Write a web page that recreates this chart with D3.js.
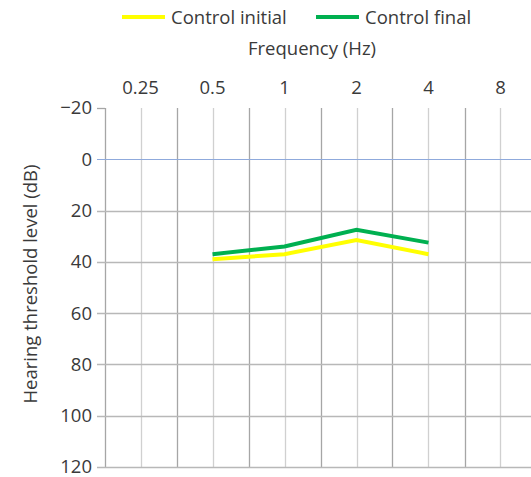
<!DOCTYPE html>
<html>
<head>
<meta charset="utf-8">
<script src="https://cdn.jsdelivr.net/npm/d3@7"></script>
<style>
  body { margin: 0; background: #fff; }
  text { font-family: "Open Sans", "Noto Sans", sans-serif; fill: #3a3a3a; }
</style>
</head>
<body>
<script>
// data
const freqs = [0.5, 1, 2, 4];
const controlInitial = [39, 37, 31.5, 37];
const controlFinal = [37, 34, 27.5, 32.5];
const freqTicks = [0.25, 0.5, 1, 2, 4, 8];
const dbTicks = [-20, 0, 20, 40, 60, 80, 100, 120];

const W = 531, H = 477;
const fs = "18.5px";
const svg = d3.select("body").append("svg")
  .attr("width", W).attr("height", H);

// x is log2, grid every half octave
const x = d3.scaleLog().base(2)
  .domain([Math.pow(2, -2.5), Math.pow(2, 3.5)])
  .range([104.5, 536.5]);
const y = d3.scaleLinear().domain([-20, 120]).range([108, 467]);

const gridX = d3.range(-2.5, 3.6, 0.5).map(e => Math.pow(2, e));

// vertical grid
svg.append("g").selectAll("line")
  .data(gridX)
  .join("line")
  .attr("x1", d => Math.round(x(d)) + 0.5).attr("x2", d => Math.round(x(d)) + 0.5)
  .attr("y1", y(-20)).attr("y2", y(120))
  .attr("stroke", (d, i) => i % 2 == 0 ? "#a6a6a6" : "#d0d0d0")
  .attr("stroke-width", 1.3);

// horizontal grid
svg.append("g").selectAll("line")
  .data(dbTicks.filter(d => d != -20))
  .join("line")
  .attr("x1", 97).attr("x2", W)
  .attr("y1", d => Math.round(y(d)) + 0.5).attr("y2", d => Math.round(y(d)) + 0.5)
  .attr("stroke", d => d == 0 ? "#8faadc" : "#b8b8b8")
  .attr("stroke-width", d => d == 0 ? 1 : 1.3);

// tick at -20
svg.append("line")
  .attr("x1", 97).attr("x2", 105)
  .attr("y1", Math.round(y(-20)) + 0.5).attr("y2", Math.round(y(-20)) + 0.5)
  .attr("stroke", "#a6a6a6").attr("stroke-width", 1.3);

// y labels
svg.append("g").selectAll("text")
  .data(dbTicks)
  .join("text")
  .attr("x", 92).attr("y", d => y(d))
  .attr("dy", "0.35em")
  .attr("text-anchor", "end")
  .style("font-size", fs)
  .text(d => d < 0 ? "\u2212" + Math.abs(d) : d);

// x labels (top)
svg.append("g").selectAll("text")
  .data(freqTicks)
  .join("text")
  .attr("x", d => x(d)).attr("y", 94)
  .attr("text-anchor", "middle")
  .style("font-size", fs)
  .text(d => d);

svg.append("text")
  .attr("x", 312).attr("y", 55)
  .attr("text-anchor", "middle")
  .style("font-size", fs)
  .text("Frequency (Hz)");

svg.append("text")
  .attr("transform", "translate(37," + 284 + ") rotate(-90)")
  .attr("text-anchor", "middle")
  .style("font-size", fs)
  .text("Hearing threshold level (dB)");

// lines
const line = d3.line()
  .x(d => x(d[0]))
  .y(d => y(d[1]));

const series = [
  { name: "Control initial", values: controlInitial, color: "#ffff00" },
  { name: "Control final", values: controlFinal, color: "#00b050" }
];

series.forEach(s => {
  svg.append("path")
    .datum(freqs.map((f, i) => [f, s.values[i]]))
    .attr("d", line)
    .attr("fill", "none")
    .attr("stroke", s.color)
    .attr("stroke-width", 4);
});

// legend
const legendX = [122, 316];
series.forEach((s, i) => {
  svg.append("line")
    .attr("x1", legendX[i]).attr("x2", legendX[i] + 43)
    .attr("y1", 17).attr("y2", 17)
    .attr("stroke", s.color).attr("stroke-width", 4);
  svg.append("text")
    .attr("x", legendX[i] + 49).attr("y", 24)
    .style("font-size", fs)
    .text(s.name);
});
</script>
</body>
</html>
